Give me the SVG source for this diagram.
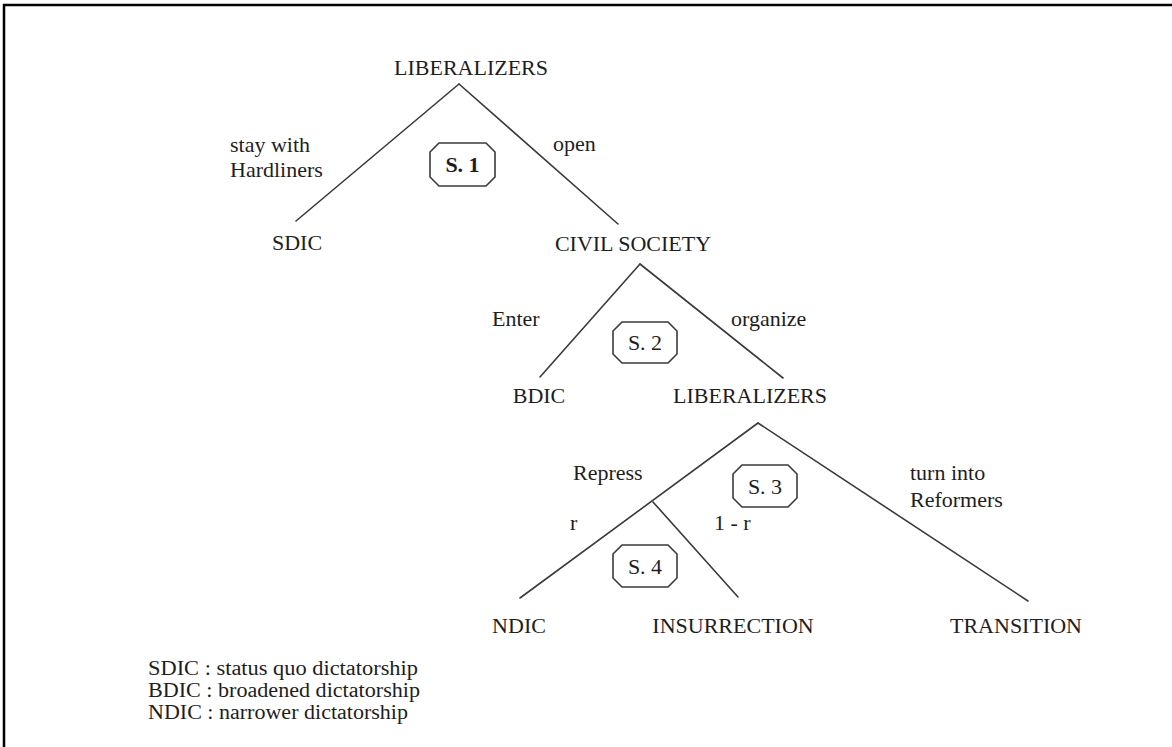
<svg xmlns="http://www.w3.org/2000/svg" width="1172" height="747" viewBox="0 0 1172 747">
<style>
text{font-family:"Liberation Serif","Times New Roman",serif;font-size:22px;fill:#1e1e1e}
.n{text-anchor:middle}
.e{stroke:#3a3a3a;stroke-width:1.6;fill:none;stroke-linecap:round}
.box{stroke:#3a3a3a;stroke-width:1.6;fill:#fff}
.lg{font-size:20px}
</style>
<rect width="1172" height="747" fill="#fff"/>
<path d="M4 747 V5 H1172" fill="none" stroke="#000" stroke-width="2.5"/>
<g id="connectors">
<line class="e" x1="459" y1="84" x2="296" y2="221"/>
<line class="e" x1="459" y1="84" x2="618" y2="224"/>
<line class="e" x1="640" y1="264" x2="540" y2="377"/>
<line class="e" x1="640" y1="264" x2="783" y2="378"/>
<line class="e" x1="758" y1="423" x2="520" y2="598"/>
<line class="e" x1="758" y1="423" x2="1028" y2="601"/>
<line class="e" x1="653" y1="502" x2="738" y2="597"/>
</g>
<g id="edge-labels">
<text x="230" y="152">stay with</text>
<text x="230" y="177">Hardliners</text>
<text x="553" y="151">open</text>
<text x="492" y="326">Enter</text>
<text x="731" y="326">organize</text>
<text x="573" y="480">Repress</text>
<text x="910" y="480">turn into</text>
<text x="910" y="507">Reformers</text>
<text x="570" y="530">r</text>
<text x="714" y="530">1 - r</text>
</g>
<g id="n-liberalizers-1"><text class="n" x="471" y="75">LIBERALIZERS</text></g>
<g id="n-sdic"><text class="n" x="297" y="250">SDIC</text></g>
<g id="n-civil-society"><text class="n" x="633" y="251">CIVIL SOCIETY</text></g>
<g id="n-bdic"><text class="n" x="539" y="403">BDIC</text></g>
<g id="n-liberalizers-2"><text class="n" x="750" y="403">LIBERALIZERS</text></g>
<g id="n-ndic"><text class="n" x="519" y="633">NDIC</text></g>
<g id="n-insurrection"><text class="n" x="733" y="633">INSURRECTION</text></g>
<g id="n-transition"><text class="n" x="1016" y="633">TRANSITION</text></g>
<g id="s1"><path class="box" d="M439 143 H486 L495 152 V177 L486 186 H439 L430 177 V152 Z"/><text class="n" x="462.5" y="172" font-weight="bold">S. 1</text></g>
<g id="s2"><path class="box" d="M622 322 H668 L677 331 V354 L668 363 H622 L613 354 V331 Z"/><text class="n" x="645" y="350">S. 2</text></g>
<g id="s3"><path class="box" d="M742 465 H788 L797 474 V498 L788 507 H742 L733 498 V474 Z"/><text class="n" x="765" y="494">S. 3</text></g>
<g id="s4"><path class="box" d="M622 545 H668 L677 554 V578 L668 587 H622 L613 578 V554 Z"/><text class="n" x="645" y="574">S. 4</text></g>
<g id="legend">
<text class="lg" x="148" y="675" textLength="270" lengthAdjust="spacingAndGlyphs">SDIC : status quo dictatorship</text>
<text class="lg" x="148" y="697" textLength="272" lengthAdjust="spacingAndGlyphs">BDIC : broadened dictatorship</text>
<text class="lg" x="148" y="719" textLength="260" lengthAdjust="spacingAndGlyphs">NDIC : narrower dictatorship</text>
</g>
</svg>
